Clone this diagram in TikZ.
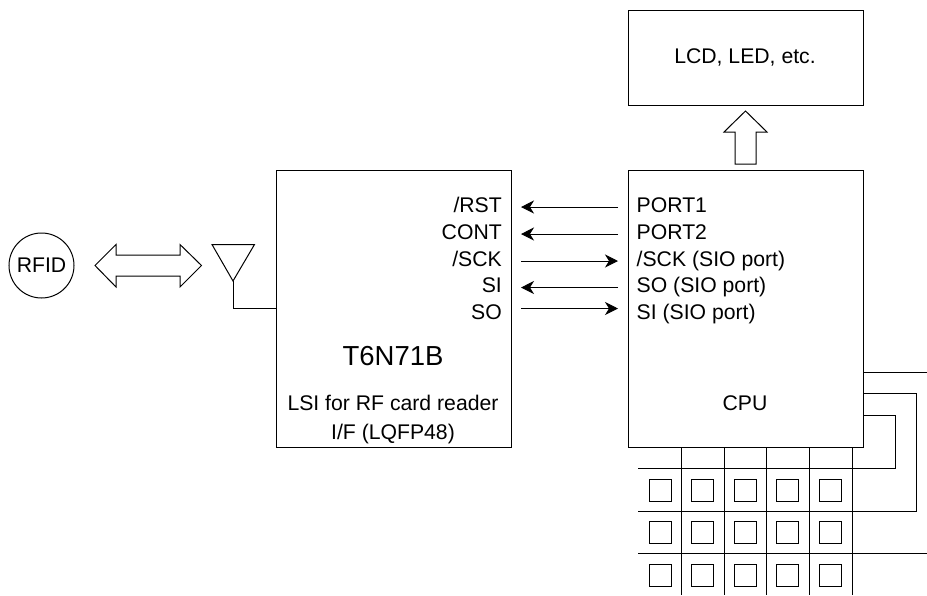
\documentclass[tikz,border=0pt]{standalone}
\usepackage{fontspec}
\setmainfont{Liberation Sans}
\usetikzlibrary{arrows.meta}
\tikzset{
  ln/.style={draw=black,line width=1pt,line join=miter},
  boxn/.style={ln,rectangle,inner sep=0pt,minimum width=235pt},
  lbl/.style={font=\fontsize{21.2}{25}\selectfont,inner sep=0pt,text=black,anchor=base},
  pinl/.style={lbl,anchor=base east},
  pinr/.style={lbl,anchor=base west},
  sig/.style={ln,-{Stealth[length=13pt,width=13pt,inset=4pt]}},
  key/.style={ln,rectangle,minimum width=22pt,minimum height=22pt,inner sep=0pt},
}
\begin{document}
\begin{tikzpicture}[x=1pt,y=-1pt]
\useasboundingbox (0,0) rectangle (927,595);
% Boxes
\node[boxn,minimum height=95pt] (lcd) at (745.5,57.5) {};
\node[boxn,minimum height=277pt] (cpu) at (745.5,308.5) {};
\node[boxn,minimum height=277pt] (lsi) at (393.5,308.5) {};
\node[lbl] (lcdname) at (745,63.3) {LCD, LED, etc.};
\node[lbl] (cpuname) at (745,410) {CPU};
\node[lbl,font=\fontsize{27.5}{32}\selectfont] (chip) at (393,365) {T6N71B};
\node[lbl] (lsi1) at (393,410) {LSI for RF card reader};
\node[lbl] (lsi2) at (393,439) {I/F (LQFP48)};
\node[ln,circle,minimum size=65pt,inner sep=0pt] (rfid) at (41.5,265.5) {};
\node[lbl] (rfidname) at (41.5,272.7) {RFID};
% Pins
\node[pinl] (prst)  at (502,212.7) {/RST};
\node[pinl] (pcont) at (502,239.4) {CONT};
\node[pinl] (psck)  at (502,266) {/SCK};
\node[pinl] (psi)   at (502,292.8) {SI};
\node[pinl] (pso)   at (502,319.5) {SO};
\node[pinr] (q1) at (636.5,212.7) {PORT1};
\node[pinr] (q2) at (636.5,239.4) {PORT2};
\node[pinr] (q3) at (636.5,266) {/SCK (SIO port)};
\node[pinr] (q4) at (636.5,292.8) {SO (SIO port)};
\node[pinr] (q5) at (636.5,319.5) {SI (SIO port)};
% Signal arrows
\foreach \n/\y in {a/207,b/234,c/261,d/287.5,e/308.5}{
  \coordinate (l\n) at (521,\y);
  \coordinate (r\n) at (618,\y);
}
\draw[sig] (ra) -- (la);
\draw[sig] (rb) -- (lb);
\draw[sig] (lc) -- (rc);
\draw[sig] (rd) -- (ld);
\draw[sig] (le) -- (re);
% Block arrow up
\draw[ln] (735,164) -- (735,132) -- (724,132) -- (745.5,111) -- (767,132) -- (756,132) -- (756,164) -- cycle;
% Double arrow
\draw[ln] (95,265.5) -- (116,244.5) -- (116,255) -- (180,255) -- (180,244.5) -- (201.5,265.5) -- (180,287) -- (180,276) -- (116,276) -- (116,287) -- cycle;
% Antenna
\draw[ln] (212,244.5) -- (254.5,244.5) -- (233,281) -- cycle;
\coordinate (ant) at (233,281);
\coordinate (lsiin) at (lsi.west |- 0,308.5);
\draw[ln] (ant) -- (233,308.5) -- (lsiin);
% CPU port lines
\coordinate (c1) at (cpu.east |- 0,372.5);
\coordinate (c2) at (cpu.east |- 0,393.5);
\coordinate (c3) at (cpu.east |- 0,415);
\draw[ln] (c1) -- (927,372.5);
\draw[ln] (c2) -- (916,393.5) -- (916,511) -- (638,511);
\draw[ln] (c3) -- (895,415) -- (895,468.5) -- (638,468.5);
\draw[ln] (638,553.5) -- (927,553.5);
% Matrix columns
\foreach \x in {681,724,766.5,809,852}{
  \draw[ln] (\x,447) -- (\x,595);
}
% Keys
\foreach \x [count=\i] in {660,702.5,745,787.5,830}{
  \foreach \y [count=\j] in {490,532.5,575}{
    \node[key] (k\i\j) at (\x,\y) {};
  }
}
\end{tikzpicture}
\end{document}
